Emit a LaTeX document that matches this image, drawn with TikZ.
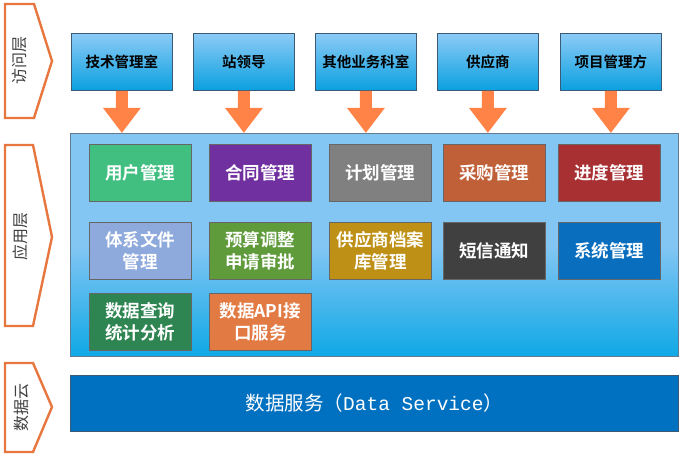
\documentclass[tikz,border=0pt]{standalone}
\usepackage{fontspec}
\newfontfamily\cjk{Noto Sans CJK SC}
\newfontfamily\cjkb{Noto Sans CJK SC Bold}
\setmonofont{Liberation Mono}
\begin{document}
\begin{tikzpicture}[x=1pt,y=-1pt,
  chev/.style={draw=chevorange,line width=2.4pt,fill=white,line join=miter},
  chevtext/.style={font=\cjk\fontsize{16}{16}\selectfont,text=textgray,rotate=90},
  topbox/.style={draw=boxborder,line width=0.8pt,top color=topblue,bottom color=botblue,
    minimum width=101pt,minimum height=57pt,inner sep=0pt,font=\cjkb\fontsize{14.5}{14.5}\selectfont,text=black},
  inbox/.style={draw=black!60,line width=0.6pt,minimum width=102pt,minimum height=57pt,inner sep=0pt,
    text=white,align=center,font=\cjkb\fontsize{17.5}{22}\selectfont},
  downarrow/.style={fill=arroworange,draw=none}
]
\definecolor{chevorange}{HTML}{E8773F}
\definecolor{textgray}{HTML}{404040}
\definecolor{boxborder}{HTML}{3A5A78}
\definecolor{topblue}{HTML}{8CCBF6}
\definecolor{botblue}{HTML}{0AA0E0}
\definecolor{arroworange}{HTML}{FF8346}
\definecolor{applight}{HTML}{84C6F3}
\definecolor{appdark}{HTML}{0FA8E6}
\definecolor{dsblue}{HTML}{0070C0}
\useasboundingbox (0,0) rectangle (687,457);
\fill[white] (0,0) rectangle (687,457);

% chevrons
\draw[chev] (5,4) -- (34,4) -- (52,61) -- (34,118) -- (5,118) -- cycle;
\node[chevtext] (l1) at (20,61) {访问层};
\draw[chev] (5,145) -- (33,145) -- (52,237) -- (33,326) -- (5,326) -- cycle;
\node[chevtext] (l2) at (20,236) {应用层};
\draw[chev] (5,363) -- (33,363) -- (52,407) -- (33,452) -- (5,452) -- cycle;
\node[chevtext] (l3) at (21,407) {数据云};

% application layer background
\node[draw=boxborder!80,line width=0.8pt,top color=applight,bottom color=appdark,
  middle color=applight,shading angle=0,minimum width=608pt,minimum height=223pt,inner sep=0pt,anchor=north west]
  (app) at (70,133) {};

% top boxes with arrows
\foreach \x/\n/\t in {71/a/技术管理室,193/b/站领导,315/c/其他业务科室,437/d/供应商,560/e/项目管理方}{
  \node[topbox,anchor=north west] (\n) at (\x,33) {\t};
  \fill[downarrow] ([xshift=-6pt]\n.south) -- ++(0,17) -- ++(-13,0) -- ++(19,25)
     -- ++(19,-25) -- ++(-13,0) -- ++(0,-17) -- cycle;
}

% inner boxes
\definecolor{c1}{HTML}{40BF80}
\definecolor{c2}{HTML}{7030A0}
\definecolor{c3}{HTML}{808080}
\definecolor{c4}{HTML}{BF6038}
\definecolor{c5}{HTML}{A83033}
\definecolor{c6}{HTML}{8EA9DB}
\definecolor{c7}{HTML}{5F9A3B}
\definecolor{c8}{HTML}{BF9016}
\definecolor{c9}{HTML}{404040}
\definecolor{c10}{HTML}{0A6EBF}
\definecolor{c11}{HTML}{2E8552}
\definecolor{c12}{HTML}{E27A43}
\node[inbox,fill=c1,anchor=north west] (u1) at (89,144) {用户管理};
\node[inbox,fill=c2,anchor=north west] (u2) at (209,144) {合同管理};
\node[inbox,fill=c3,anchor=north west] (u3) at (329,144) {计划管理};
\node[inbox,fill=c4,anchor=north west] (u4) at (443,144) {采购管理};
\node[inbox,fill=c5,anchor=north west] (u5) at (558,144) {进度管理};
\node[inbox,fill=c6,anchor=north west] (v1) at (89,222) {体系文件\\管理};
\node[inbox,fill=c7,anchor=north west] (v2) at (209,222) {预算调整\\申请审批};
\node[inbox,fill=c8,anchor=north west] (v3) at (329,222) {供应商档案\\库管理};
\node[inbox,fill=c9,anchor=north west] (v4) at (443,222) {短信通知};
\node[inbox,fill=c10,anchor=north west] (v5) at (558,222) {系统管理};
\node[inbox,fill=c11,anchor=north west] (w1) at (89,293) {数据查询\\统计分析};
\node[inbox,fill=c12,anchor=north west] (w2) at (209,293) {数据API接\\口服务};

% data service
\node[draw=boxborder,line width=0.8pt,fill=dsblue,minimum width=608pt,minimum height=56pt,inner sep=0pt,
  anchor=north west,text=white,font=\fontsize{19.5}{19.5}\selectfont] (ds) at (70,375)
  {{\cjk 数据服务（}{\ttfamily Data Service}{\cjk ）}};
\end{tikzpicture}
\end{document}
